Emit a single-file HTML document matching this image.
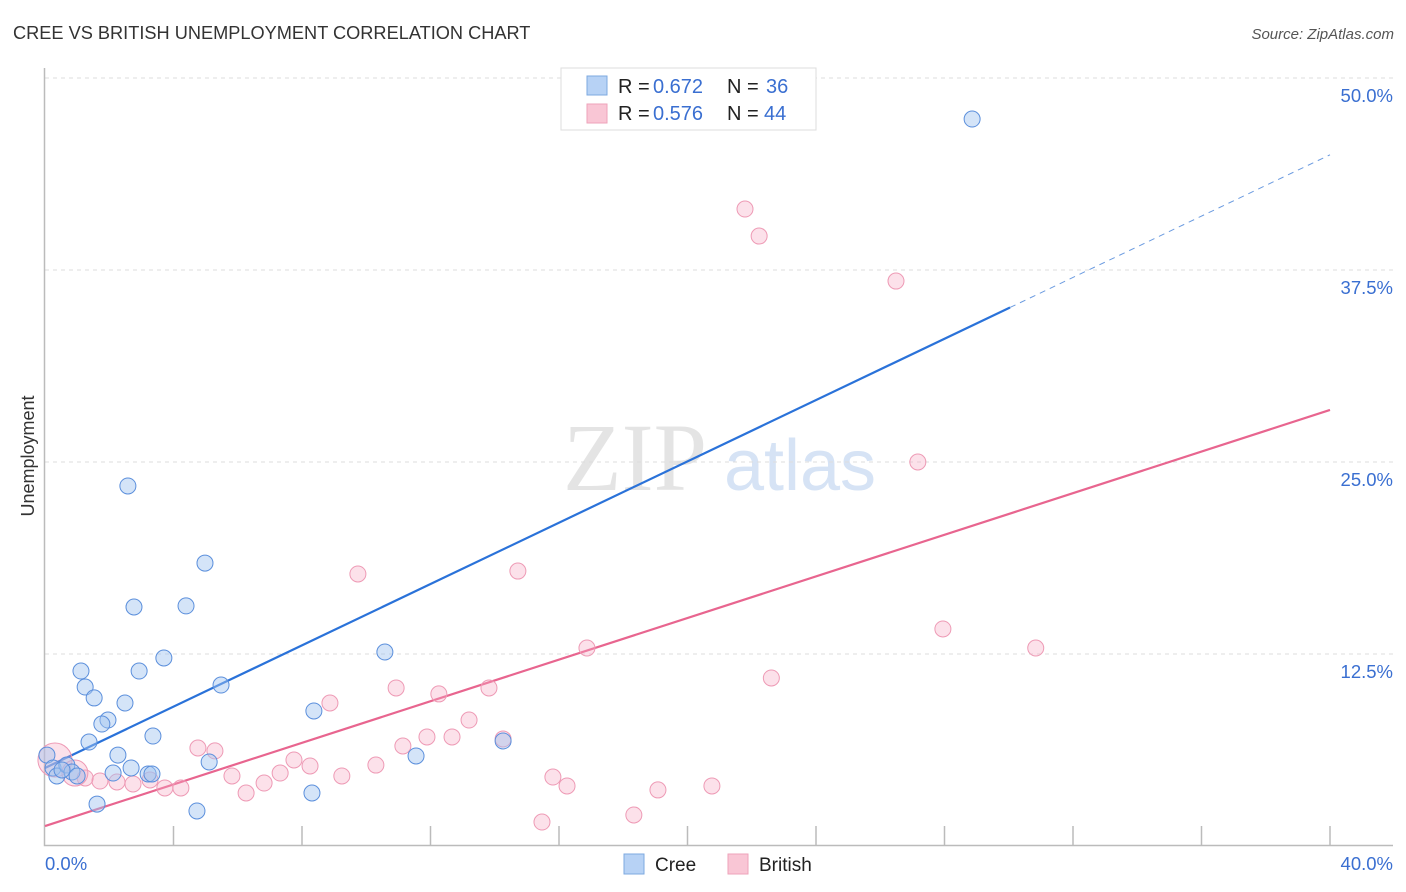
<!DOCTYPE html>
<html><head><meta charset="utf-8"><style>
body{margin:0;background:#fff;font-family:"Liberation Sans",sans-serif;}
svg{display:block}
</style></head><body>
<svg width="1406" height="892" xmlns="http://www.w3.org/2000/svg">
<text x="13" y="39" font-size="18.2" fill="#333">CREE VS BRITISH UNEMPLOYMENT CORRELATION CHART</text>
<text x="1394" y="39" font-size="15" fill="#555" font-style="italic" text-anchor="end">Source: ZipAtlas.com</text>
<text transform="translate(34,456) rotate(-90)" font-size="18" fill="#333" text-anchor="middle">Unemployment</text>
<g>
<text x="635" y="490" font-size="96" fill="#e4e4e4" font-family="Liberation Serif,serif" text-anchor="middle">ZIP</text>
<text x="800" y="490" font-size="72" fill="#d6e3f5" text-anchor="middle">atlas</text>
</g>
<g id="grid"></g>
<g id="axes"></g>
<g id="lines"></g>
<g id="points"></g>
<g>
<rect x="561" y="68" width="255" height="62" fill="#fff" stroke="#ddd"/>
<rect x="587" y="76" width="20" height="19" fill="#b7d2f5" stroke="#7ea9e0"/>
<rect x="587" y="104" width="20" height="19" fill="#f9c6d5" stroke="#eea3ba"/>
<text x="618" y="93" font-size="20" fill="#222">R =</text>
<text x="653" y="93" font-size="20" fill="#3a6fd1">0.672</text>
<text x="727" y="93" font-size="20" fill="#222">N =</text>
<text x="766" y="93" font-size="20" fill="#3a6fd1">36</text>
<text x="618" y="120" font-size="20" fill="#222">R =</text>
<text x="653" y="120" font-size="20" fill="#3a6fd1">0.576</text>
<text x="727" y="120" font-size="20" fill="#222">N =</text>
<text x="764" y="120" font-size="20" fill="#3a6fd1">44</text>
</g>
<g>
<rect x="624" y="854" width="20" height="20" fill="#b7d2f5" stroke="#7ea9e0"/>
<text x="655" y="871" font-size="19" fill="#222">Cree</text>
<rect x="728" y="854" width="20" height="20" fill="#f9c6d5" stroke="#eea3ba"/>
<text x="759" y="871" font-size="19" fill="#222">British</text>
</g>
</svg>
<script>
const yTicks=[12.5,25,37.5,50];
const yTickLabels=["12.5%","25.0%","37.5%","50.0%"];
const xTickLabels=["0.0%","40.0%"];
const creeX=[28.86,2.58,4.98,2.77,4.39,3.70,1.12,2.93,10.58,1.25,5.48,1.53,2.49,8.37,1.96,1.77,3.36,1.37,2.27,14.26,11.55,5.11,2.68,3.21,3.33,2.12,0.06,0.25,0.37,0.68,0.84,1.00,1.62,4.73,8.31,0.53];
const creeY=[47.33,23.44,18.42,15.56,15.63,12.24,11.39,11.39,12.63,10.35,10.48,9.64,9.31,8.79,8.20,7.94,7.16,6.77,5.92,6.84,5.86,5.47,5.08,4.69,4.69,4.75,5.92,5.08,4.56,5.27,4.82,4.56,2.73,2.28,3.45,4.95];
const britX=[21.79,22.23,26.49,27.17,9.74,14.72,27.95,30.84,16.87,22.61,10.93,13.82,12.26,8.87,13.20,14.26,11.89,12.67,11.14,4.76,5.29,7.75,8.25,10.30,5.82,7.32,9.24,15.81,6.82,16.25,20.76,19.08,4.23,3.73,3.27,2.74,2.24,1.71,1.25,6.26,15.47,18.33,0.31,0.93];
const britY=[41.47,39.71,36.78,25.0,17.71,17.90,14.13,12.89,12.89,10.94,10.29,10.29,9.90,9.31,8.20,6.97,7.10,7.10,6.51,6.38,6.19,5.60,5.21,5.27,4.56,4.75,4.56,4.49,4.10,3.91,3.91,3.65,3.78,3.78,4.30,4.04,4.17,4.23,4.43,3.45,1.56,2.02,5.60,4.75];
const britR=[8,8,8,8,8,8,8,8,8,8,8,8,8,8,8,8,8,8,8,8,8,8,8,8,8,8,8,8,8,8,8,8,8,8,8,8,8,8,8,8,8,8,17,13];
const creeTrend=[5.08,45.0,30.04];
const britTrend=[1.30,28.39];
const NS="http://www.w3.org/2000/svg";
const X=v=>45+v/40*1285;
const Y=v=>846-v/50*768;
function mk(tag,attrs,parent){const e=document.createElementNS(NS,tag);for(const k in attrs)e.setAttribute(k,attrs[k]);document.getElementById(parent).appendChild(e);return e;}
yTicks.forEach((t,i)=>{
 const g=mk('line',{x1:45,x2:1393,y1:Y(t),y2:Y(t),stroke:'#ddd','stroke-dasharray':'4,4'},'grid');
 
 
 const l=mk('text',{x:1393,y:Y(t)+24,'font-size':18.5,fill:'#3a6fd1','text-anchor':'end'},'grid');
 l.textContent=yTickLabels[i];
 
 
});
const ax=mk('path',{d:'M44.5 68V845.5H1393',stroke:'#bbb','stroke-width':1.5,fill:'none'},'axes');


for(let i=1;i<=10;i++){
 const t=mk('line',{x1:X(i*4),x2:X(i*4),y1:826,y2:845,stroke:'#bbb','stroke-width':1.5},'axes');
 
 
}
[[0,'start',45],[40,'end',1393]].forEach((d,i)=>{
 const l=mk('text',{x:d[2],y:870,'font-size':18.5,fill:'#3a6fd1','text-anchor':d[1]},'axes');
 l.textContent=xTickLabels[i];
 
 
});
const cy2=creeTrend[0]+(creeTrend[1]-creeTrend[0])*creeTrend[2]/40;
const c1=mk('line',{x1:X(0),y1:Y(creeTrend[0]),x2:X(creeTrend[2]),y2:Y(cy2),stroke:'#2a72d9','stroke-width':2.2},'lines');


const c2=mk('line',{x1:X(creeTrend[2]),y1:Y(cy2),x2:X(40),y2:Y(creeTrend[1]),stroke:'#6b9be0','stroke-width':1,'stroke-dasharray':'6,5'},'lines');


const b1=mk('line',{x1:X(0),y1:Y(britTrend[0]),x2:X(40),y2:Y(britTrend[1]),stroke:'#e8658f','stroke-width':2.2},'lines');


britX.forEach((v,i)=>{
 const c=mk('circle',{cx:X(v),cy:Y(britY[i]),r:britR[i],fill:'rgba(246,170,195,0.35)',stroke:'#ee9ab5','stroke-width':1},'points');
 
 
});
creeX.forEach((v,i)=>{
 const c=mk('circle',{cx:X(v),cy:Y(creeY[i]),r:8,fill:'rgba(160,195,240,0.45)',stroke:'#5b8fdc','stroke-width':1},'points');
 
 
});
</script>
</body></html>
